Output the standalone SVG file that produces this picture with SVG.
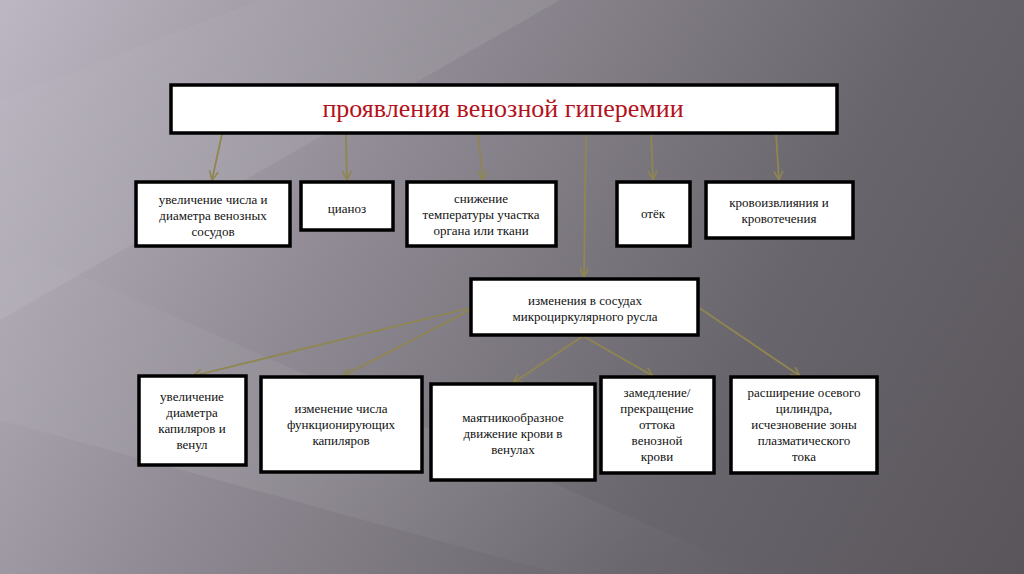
<svg xmlns="http://www.w3.org/2000/svg" width="1024" height="574" viewBox="0 0 1024 574">
<defs>
  <linearGradient id="bg" x1="0" y1="0" x2="1024" y2="574" gradientUnits="userSpaceOnUse">
    <stop offset="0" stop-color="#bcb7c2"/>
    <stop offset="0.35" stop-color="#8f8a93"/>
    <stop offset="0.7" stop-color="#69656c"/>
    <stop offset="1" stop-color="#59555b"/>
  </linearGradient>
  <linearGradient id="band" x1="0" y1="0" x2="1" y2="1">
    <stop offset="0" stop-color="#ffffff" stop-opacity="0"/>
    <stop offset="0.5" stop-color="#ffffff" stop-opacity="0.08"/>
    <stop offset="1" stop-color="#ffffff" stop-opacity="0"/>
  </linearGradient>
  <marker id="arr" markerWidth="12" markerHeight="12" refX="10" refY="6" orient="auto" markerUnits="userSpaceOnUse">
    <path d="M1,1.5 L10,6 L1,10.5" fill="none" stroke="#8f8650" stroke-width="1.6"/>
  </marker>
  <style>
    .box { fill: #ffffff; stroke: #000000; stroke-width: 3.5; }
    .t { font-family: "Liberation Serif", "DejaVu Serif", "Times New Roman", serif; font-size: 13px; fill: #111111; text-anchor: middle; }
    .title { font-family: "Liberation Serif", "DejaVu Serif", "Times New Roman", serif; font-size: 26px; fill: #b3121c; text-anchor: middle; }
    .c { stroke: #8f8650; stroke-width: 1.8; fill: none; marker-end: url(#arr); }
  </style>
</defs>
<rect x="0" y="0" width="1024" height="574" fill="url(#bg)"/>
<polygon points="0,100 260,0 560,0 0,320" fill="url(#band)"/>
<polygon points="0,240 0,420 560,574 760,574" fill="url(#band)"/>

<g id="connectors">
  <line class="c" x1="222" y1="134" x2="212" y2="180"/>
  <line class="c" x1="346" y1="134" x2="347" y2="180"/>
  <line class="c" x1="478" y1="134" x2="483" y2="180"/>
  <line class="c" x1="586" y1="134" x2="584" y2="277"/>
  <line class="c" x1="651" y1="134" x2="653" y2="180"/>
  <line class="c" x1="776" y1="134" x2="779" y2="180"/>
  <line class="c" x1="470" y1="308" x2="193" y2="376"/>
  <line class="c" x1="470" y1="310" x2="343" y2="376"/>
  <line class="c" x1="583" y1="336" x2="513" y2="383"/>
  <line class="c" x1="583" y1="336" x2="653" y2="376"/>
  <line class="c" x1="698" y1="307" x2="800" y2="376"/>
</g>

<g id="title">
  <rect class="box" x="171" y="85" width="666" height="48"/>
  <text class="title" x="503" y="117">проявления венозной гиперемии</text>
</g>

<g id="n1">
  <rect class="box" x="136" y="182" width="154" height="64"/>
  <text class="t" x="213" y="204">увеличение числа и</text>
  <text class="t" x="213" y="220">диаметра венозных</text>
  <text class="t" x="213" y="236">сосудов</text>
</g>
<g id="n2">
  <rect class="box" x="301" y="182" width="92" height="48"/>
  <text class="t" x="347" y="213">цианоз</text>
</g>
<g id="n3">
  <rect class="box" x="407" y="182" width="149" height="64"/>
  <text class="t" x="481" y="203">снижение</text>
  <text class="t" x="481" y="219">температуры участка</text>
  <text class="t" x="481" y="235">органа или ткани</text>
</g>
<g id="n4">
  <rect class="box" x="617" y="182" width="73" height="64"/>
  <text class="t" x="653" y="218">отёк</text>
</g>
<g id="n5">
  <rect class="box" x="706" y="182" width="147" height="56"/>
  <text class="t" x="779" y="207">кровоизвлияния и</text>
  <text class="t" x="779" y="223">кровотечения</text>
</g>

<g id="mid">
  <rect class="box" x="471" y="279" width="227" height="56"/>
  <text class="t" x="585" y="305">изменения в сосудах</text>
  <text class="t" x="585" y="321">микроциркулярного русла</text>
</g>

<g id="m1">
  <rect class="box" x="139" y="376" width="107" height="89"/>
  <text class="t" x="192" y="401">увеличение</text>
  <text class="t" x="192" y="417">диаметра</text>
  <text class="t" x="192" y="433">капиляров и</text>
  <text class="t" x="192" y="449">венул</text>
</g>
<g id="m2">
  <rect class="box" x="261" y="377" width="161" height="95"/>
  <text class="t" x="341" y="413">изменение числа</text>
  <text class="t" x="341" y="429">функционирующих</text>
  <text class="t" x="341" y="445">капиляров</text>
</g>
<g id="m3">
  <rect class="box" x="431" y="384" width="164" height="96"/>
  <text class="t" x="513" y="422">маятникообразное</text>
  <text class="t" x="513" y="438">движение крови в</text>
  <text class="t" x="513" y="454">венулах</text>
</g>
<g id="m4">
  <rect class="box" x="601" y="377" width="113" height="96"/>
  <text class="t" x="657" y="397">замедление/</text>
  <text class="t" x="657" y="413">прекращение</text>
  <text class="t" x="657" y="429">оттока</text>
  <text class="t" x="657" y="445">венозной</text>
  <text class="t" x="657" y="461">крови</text>
</g>
<g id="m5">
  <rect class="box" x="731" y="377" width="146" height="96"/>
  <text class="t" x="804" y="397">расширение осевого</text>
  <text class="t" x="804" y="413">цилиндра,</text>
  <text class="t" x="804" y="429">исчезновение зоны</text>
  <text class="t" x="804" y="445">плазматического</text>
  <text class="t" x="804" y="461">тока</text>
</g>
</svg>
